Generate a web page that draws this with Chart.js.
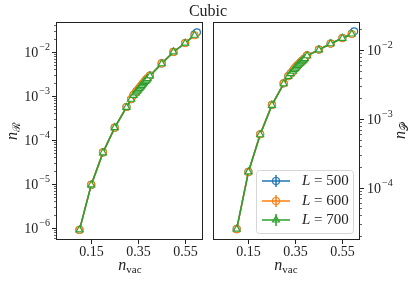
<!DOCTYPE html>
<html>
<head>
<meta charset="utf-8">
<script src="https://cdn.jsdelivr.net/npm/chart.js@4"></script>
<style>
  body { margin: 0; background: #fff; }
  #wrap { position: relative; width: 416px; height: 282px; overflow: hidden; font-family: 'Liberation Serif', serif; color: #222; }
  canvas { position: absolute; top: 0; }
  .lbl { position: absolute; white-space: nowrap; font-size: 16px; line-height: 1; }
  .lbl i { font-style: italic; }
  .lbl sub { font-size: 11px; vertical-align: -3px; }
  .rot { transform: translate(-50%, -50%) rotate(-90deg); }
  .ctr { transform: translate(-50%, -50%); }
</style>
</head>
<body>
<div id="wrap">
  <canvas id="chart-left" width="208" height="282" style="left:0"></canvas>
  <canvas id="chart-right" width="208" height="282" style="left:208px"></canvas>
  <div class="lbl ctr" style="left:208px; top:11px; font-size:16px">Cubic</div>
  <div class="lbl ctr" style="left:130px; top:266px"><i>n</i><sub>vac</sub></div>
  <div class="lbl ctr" style="left:286px; top:266px"><i>n</i><sub>vac</sub></div>
  <div class="lbl rot" style="left:13px; top:131px"><i>n</i><sub>ℛ</sub></div>
  <div class="lbl rot" style="left:401px; top:131px"><i>n</i><sub>𝒫</sub></div>
</div>
<script>
const color_blue = '#1f77b4'
const color_orange = '#ff7f0e'
const color_green = '#2ca02c'
const font_family = "'Liberation Serif', serif"

// vacancy concentration (x axis, both panels)
const n_vac = [0.1, 0.15, 0.2, 0.25, 0.3, 0.32, 0.33, 0.34, 0.345, 0.35, 0.355, 0.36,
    0.365, 0.37, 0.375, 0.38, 0.385, 0.39, 0.4, 0.45, 0.5, 0.55, 0.59, 0.6]

// left panel, n_R
const nR_500 = [9.0e-7, 9.5e-6, 5.2e-5, 1.9e-4, 5.6e-4, 8.4e-4, 1.05e-3, 1.2e-3, 1.3e-3, 1.4e-3, 1.5e-3, 1.6e-3,
    1.75e-3, 1.9e-3, 2.0e-3, 2.2e-3, 2.35e-3, 2.5e-3, 2.9e-3, 5.5e-3, 1.0e-2, 1.6e-2, 2.5e-2, 2.8e-2]
const nR_600 = [9.0e-7, 9.6e-6, 5.2e-5, 1.9e-4, 5.6e-4, 8.5e-4, 1.05e-3, 1.2e-3, 1.3e-3, 1.4e-3, 1.5e-3, 1.62e-3,
    1.75e-3, 1.9e-3, 2.05e-3, 2.2e-3, 2.35e-3, 2.5e-3, 2.9e-3, 5.5e-3, 1.0e-2, 1.6e-2, 2.4e-2, null]
const nR_700 = [9.0e-7, 9.5e-6, 5.1e-5, 1.9e-4, 5.5e-4, 8.4e-4, 1.03e-3, 1.18e-3, 1.28e-3, 1.38e-3, 1.48e-3, 1.6e-3,
    1.72e-3, 1.88e-3, 2.0e-3, 2.15e-3, 2.3e-3, 2.48e-3, 2.85e-3, 5.4e-3, 1.0e-2, 1.58e-2, 2.4e-2, null]

// right panel, n_P
const nP_500 = [2.5e-5, 1.7e-4, 6.0e-4, 1.6e-3, 3.3e-3, 4.2e-3, 4.6e-3, 5.0e-3, 5.3e-3, 5.5e-3, 5.8e-3, 6.0e-3,
    6.3e-3, 6.5e-3, 6.8e-3, 7.0e-3, 7.3e-3, 7.6e-3, 8.4e-3, 1.02e-2, 1.25e-2, 1.5e-2, 1.75e-2, 1.88e-2]
const nP_600 = [2.5e-5, 1.7e-4, 6.0e-4, 1.6e-3, 3.3e-3, 4.2e-3, 4.6e-3, 5.0e-3, 5.3e-3, 5.55e-3, 5.8e-3, 6.05e-3,
    6.3e-3, 6.55e-3, 6.8e-3, 7.05e-3, 7.3e-3, 7.6e-3, 8.4e-3, 1.02e-2, 1.25e-2, 1.5e-2, 1.72e-2, null]
const nP_700 = [2.5e-5, 1.7e-4, 5.9e-4, 1.58e-3, 3.25e-3, 4.15e-3, 4.55e-3, 4.95e-3, 5.25e-3, 5.5e-3, 5.75e-3, 6.0e-3,
    6.25e-3, 6.5e-3, 6.75e-3, 7.0e-3, 7.25e-3, 7.55e-3, 8.3e-3, 1.01e-2, 1.24e-2, 1.49e-2, 1.72e-2, null]

const x_ticks = [0.15, 0.35, 0.55]
const series_labels = ['500', '600', '700']

function points(ys) {
    return n_vac.map((x, i) => ({ x: x, y: ys[i] })).filter(p => p.y !== null)
}

// later series drawn on top, like matplotlib
function make_dataset(ys, color, style, radius, order) {
    return {
        data: points(ys),
        showLine: true,
        order: order,
        borderColor: color,
        borderWidth: 1.5,
        pointStyle: style,
        pointRadius: radius,
        pointBorderWidth: 1.2,
        pointBorderColor: color,
        pointBackgroundColor: '#ffffff',
        tension: 0
    }
}

// matplotlib style axes: frame, outward ticks, log minor ticks, 10^k labels
function draw_pow(ctx, x, y, k, align) {
    const base = '10', exp = '\u2212' + Math.abs(k)
    ctx.font = `14px ${font_family}`
    const wb = ctx.measureText(base).width
    ctx.font = `10px ${font_family}`
    const we = ctx.measureText(exp).width
    let x0 = align === 'right' ? x - wb - we - 1 : x
    ctx.fillStyle = '#222'
    ctx.textAlign = 'left'
    ctx.textBaseline = 'middle'
    ctx.font = `14px ${font_family}`
    ctx.fillText(base, x0, y + 1)
    ctx.font = `10px ${font_family}`
    ctx.fillText(exp, x0 + wb + 1, y - 5)
}

const axes_plugin = {
    id: 'mplAxes',
    afterDraw(chart, args, opts) {
        const ctx = chart.ctx
        const a = chart.chartArea
        const xs = chart.scales.x, ys = chart.scales.y
        ctx.save()
        ctx.strokeStyle = '#222'
        ctx.lineWidth = 1
        ctx.strokeRect(Math.round(a.left) + 0.5, Math.round(a.top) + 0.5,
            Math.round(a.right - a.left) - 1, Math.round(a.bottom - a.top) - 1)

        // x ticks
        x_ticks.forEach(v => {
            const px = Math.round(xs.getPixelForValue(v)) + 0.5
            ctx.beginPath()
            ctx.moveTo(px, a.bottom)
            ctx.lineTo(px, a.bottom + 4)
            ctx.stroke()
            ctx.fillStyle = '#222'
            ctx.font = `14px ${font_family}`
            ctx.textAlign = 'center'
            ctx.textBaseline = 'middle'
            ctx.fillText(v.toFixed(2), px, a.bottom + 12)
        })

        // y ticks
        const side = opts.side
        const edge = side === 'left' ? a.left : a.right
        const dir = side === 'left' ? -1 : 1
        for (let k = -8; k <= 0; k++) {
            for (let m = 1; m <= 9; m++) {
                const v = m * Math.pow(10, k)
                if (v < ys.min || v > ys.max) continue
                const py = Math.round(ys.getPixelForValue(v)) + 0.5
                const len = m === 1 ? 4 : 2
                ctx.lineWidth = m === 1 ? 1 : 0.7
                ctx.beginPath()
                ctx.moveTo(edge, py)
                ctx.lineTo(edge + dir * len, py)
                ctx.stroke()
                if (m === 1) {
                    if (side === 'left') draw_pow(ctx, edge - 6, py, k, 'right')
                    else draw_pow(ctx, edge + 7, py, k, 'left')
                }
            }
        }
        ctx.restore()
    }
}

// legend box as in the reference (line + errorbar + marker)
const legend_plugin = {
    id: 'mplLegend',
    afterDraw(chart, args, opts) {
        if (!opts.show) return
        const ctx = chart.ctx
        ctx.save()
        ctx.beginPath()
        ctx.roundRect(48.5, 170.5, 97, 63, 3)
        ctx.fillStyle = 'rgba(255,255,255,0.85)'
        ctx.fill()
        ctx.strokeStyle = '#d6d6d6'
        ctx.lineWidth = 1
        ctx.stroke()
        const rows = [181, 201, 220]
        chart.data.datasets.forEach((ds, i) => {
            const y = rows[i]
            ctx.strokeStyle = ds.borderColor
            ctx.lineWidth = 1.5
            ctx.beginPath()
            ctx.moveTo(54, y)
            ctx.lineTo(82, y)
            ctx.moveTo(68, y - 6)
            ctx.lineTo(68, y + 6)
            ctx.stroke()
            ctx.fillStyle = 'rgba(0,0,0,0)'
            ctx.lineWidth = 1.2
            Chart.helpers.drawPoint(ctx, { pointStyle: ds.pointStyle, radius: ds.pointRadius, borderWidth: 1.2, rotation: 0 }, 68, y)
            ctx.fillStyle = '#222'
            ctx.textAlign = 'left'
            ctx.textBaseline = 'middle'
            ctx.font = `italic 15px ${font_family}`
            ctx.fillText('L', 94, y)
            const wl = ctx.measureText('L').width
            ctx.font = `15px ${font_family}`
            ctx.fillText(' = ' + series_labels[i], 94 + wl, y)
        })
        ctx.restore()
    }
}

function panel(id, datasets, y_min, y_max, side) {
    const right = side === 'right'
    return new Chart(id, {
        type: 'scatter',
        data: { datasets: datasets },
        options: {
            responsive: false,
            animation: false,
            layout: { padding: { top: 22, left: right ? 4 : 0, right: right ? 0 : 4, bottom: 0 } },
            plugins: {
                legend: { display: false },
                tooltip: { enabled: false },
                mplAxes: { side: side },
                mplLegend: { show: right }
            },
            scales: {
                x: {
                    type: 'linear', min: 0, max: 0.625,
                    grid: { display: false }, border: { display: false },
                    ticks: { display: false },
                    afterFit: s => { s.height = 42 }
                },
                y: {
                    type: 'logarithmic', min: y_min, max: y_max, position: side,
                    grid: { display: false }, border: { display: false },
                    ticks: { display: false },
                    afterFit: s => { s.width = 56 }
                }
            }
        },
        plugins: [axes_plugin, legend_plugin]
    })
}

panel('chart-left', [
    make_dataset(nR_500, color_blue, 'circle', 3.5, 3),
    make_dataset(nR_600, color_orange, 'circle', 3.5, 2),
    make_dataset(nR_700, color_green, 'triangle', 4, 1)
], 5.3e-7, 4.8e-2, 'left')

panel('chart-right', [
    make_dataset(nP_500, color_blue, 'circle', 3.5, 3),
    make_dataset(nP_600, color_orange, 'circle', 3.5, 2),
    make_dataset(nP_700, color_green, 'triangle', 4, 1)
], 1.74e-5, 2.57e-2, 'right')
</script>
</body>
</html>
